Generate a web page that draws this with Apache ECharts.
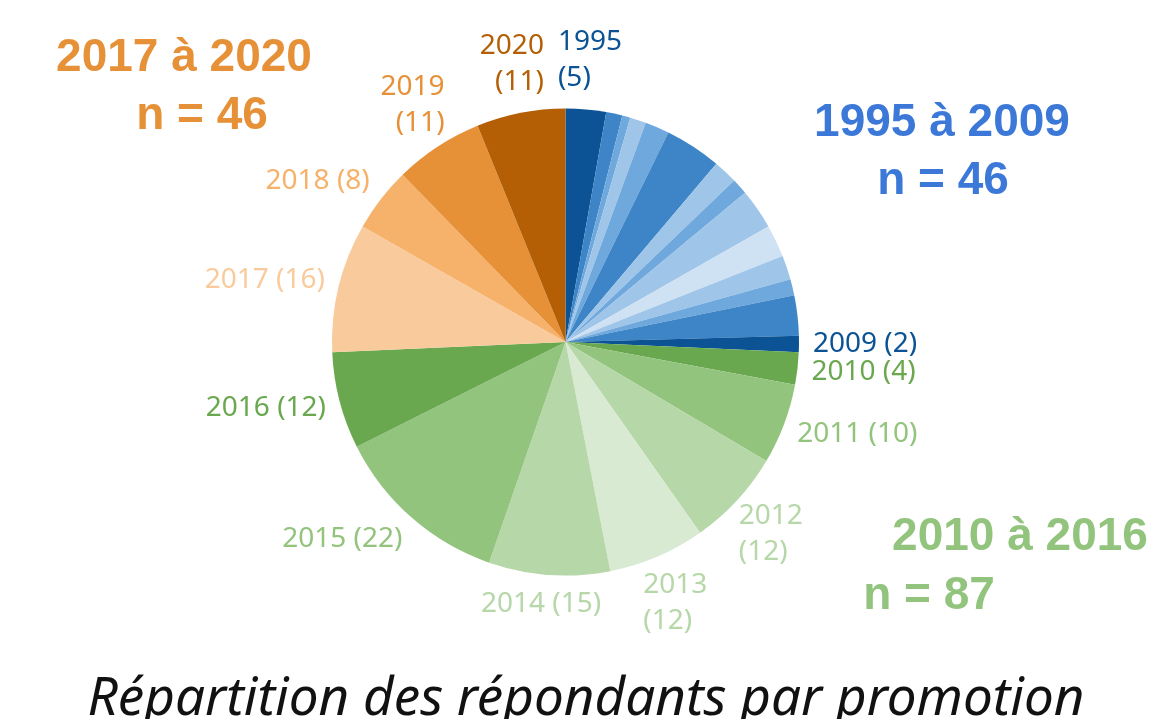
<!DOCTYPE html>
<html>
<head>
<meta charset="utf-8">
<script src="https://cdn.jsdelivr.net/npm/echarts@6.0.0/dist/echarts.min.js"></script>
<style>
  html, body { margin: 0; padding: 0; background: #fff; }
  #pie { width: 1152px; height: 719px; }
</style>
</head>
<body>
<div id="pie"></div>
<script>
// promotions (année de sortie) et nombre de répondants
const years = ['1995', '1996', '1997', '1998', '1999', '2000', '2001', '2002', '2003', '2004', '2005', '2006', '2007',
  '2009', '2010', '2011', '2012', '2013', '2014', '2015', '2016', '2017', '2018', '2019', '2020'];
const counts = [5, 2, 1, 2, 3, 7, 3, 2, 5, 4, 3, 2, 5,
  2, 4, 10, 12, 12, 15, 22, 12, 16, 8, 11, 11];

// années affichées avec leur étiquette, et celles qui passent sur deux lignes
const labelledYears = ['1995', '2009', '2010', '2011', '2012', '2013', '2014', '2015', '2016', '2017', '2018', '2019', '2020'];
const twoLineYears = ['1995', '2012', '2013', '2019', '2020'];

// groupes
const groupNames = ['2017 à 2020', '1995 à 2009', '2010 à 2016'];
const groupTotals = [46, 46, 87];

const titleText = 'Répartition des répondants par promotion';

// couleurs
const sliceColors = ['#0B5394', '#3D85C6', '#6FA8DC', '#9FC5E8', '#6FA8DC', '#3D85C6', '#9FC5E8', '#6FA8DC', '#9FC5E8',
  '#CFE2F3', '#9FC5E8', '#6FA8DC', '#3D85C6',
  '#0B5394', '#6AA84F', '#93C47D', '#B6D7A8', '#D9EAD3', '#B6D7A8', '#93C47D', '#6AA84F',
  '#F9CB9C', '#F6B26B', '#E69138', '#B45F06'];
const labelColors = {
  '1995': '#0B5394', '2009': '#0B5394', '2010': '#6AA84F', '2011': '#93C47D', '2012': '#B6D7A8',
  '2013': '#B6D7A8', '2014': '#B6D7A8', '2015': '#93C47D', '2016': '#6AA84F', '2017': '#F9CB9C',
  '2018': '#F6B26B', '2019': '#E69138', '2020': '#B45F06'
};
const groupColors = ['#E69138', '#3C78D8', '#93C47D'];

const CX = 565.5, CY = 342, R = 233.5, GAP = 14;
const total = counts.reduce((a, b) => a + b, 0);

const chart = echarts.init(document.querySelector('#pie'));

const seriesData = years.map((y, i) => {
  const shown = labelledYears.includes(y);
  const twoLines = twoLineYears.includes(y);
  return {
    name: y,
    value: counts[i],
    itemStyle: { color: sliceColors[i] },
    label: {
      show: shown,
      color: labelColors[y] || '#000',
      lineHeight: twoLines ? 36 : 30,
      formatter: twoLines ? '{b}\n({c})' : '{b} ({c})'
    }
  };
});

// étiquettes juste à l'extérieur du secteur (façon "bord extérieur")
function placeLabel(params) {
  const i = params.dataIndex;
  let before = 0;
  for (let k = 0; k < i; k++) before += counts[k];
  const mid = (before + counts[i] / 2) / total * Math.PI * 2;
  const ux = Math.sin(mid), uy = -Math.cos(mid);
  const w = params.labelRect.width, h = params.labelRect.height;
  const twoLines = twoLineYears.includes(years[i]);
  const fx = twoLines ? ux : Math.sign(ux) * Math.min(1, Math.abs(ux) / 0.6);
  const cx = CX + ux * (R + GAP) + fx * w / 2;
  const cy = CY + uy * (R + GAP + h / 2);
  return {
    x: ux >= 0 ? cx - w / 2 : cx + w / 2,
    y: cy,
    align: ux >= 0 ? 'left' : 'right',
    verticalAlign: 'middle'
  };
}

const groupText = (text, x, y, color) => ({
  type: 'text', x: x, y: y,
  style: {
    text: text, fill: color, font: 'bold 46px "Liberation Sans", Arial, sans-serif',
    textAlign: 'center', textVerticalAlign: 'middle'
  }
});

const option = {
  backgroundColor: '#fff',
  animation: false,
  series: [{
    type: 'pie',
    center: [CX, CY],
    radius: R,
    startAngle: 90,
    clockwise: true,
    avoidLabelOverlap: false,
    data: seriesData,
    itemStyle: { borderWidth: 0 },
    label: {
      position: 'outside',
      fontFamily: '"Noto Sans", "Open Sans", sans-serif',
      fontSize: 28
    },
    labelLine: { show: false },
    labelLayout: placeLabel,
    emphasis: { disabled: true }
  }],
  graphic: [
    groupText(groupNames[0], 184, 58, groupColors[0]),
    groupText('n = ' + groupTotals[0], 202, 116, groupColors[0]),
    groupText(groupNames[1], 942, 123, groupColors[1]),
    groupText('n = ' + groupTotals[1], 943, 181, groupColors[1]),
    groupText(groupNames[2], 1020, 537, groupColors[2]),
    groupText('n = ' + groupTotals[2], 929, 596, groupColors[2]),
    {
      type: 'text', x: 586, y: 700,
      style: {
        text: titleText, fill: '#111',
        font: 'italic 53px "Noto Sans", sans-serif',
        textAlign: 'center', textVerticalAlign: 'middle'
      }
    }
  ]
};

chart.setOption(option);
</script>
</body>
</html>
